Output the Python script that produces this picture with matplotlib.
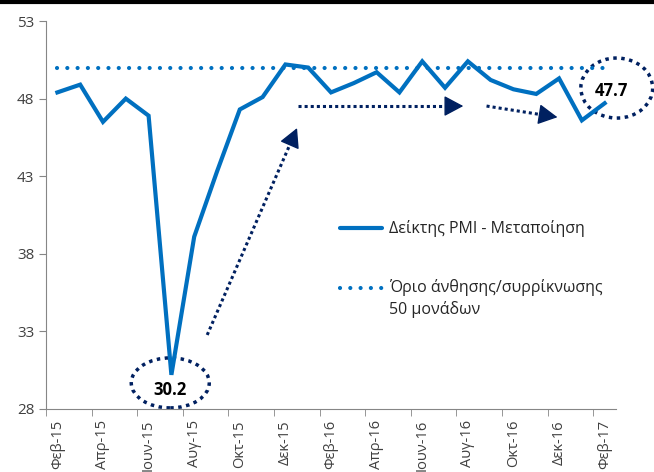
import numpy as np
import matplotlib.pyplot as plt
from matplotlib.lines import Line2D
from matplotlib.patches import Ellipse

plt.rcParams['font.family'] = ['Open Sans', 'DejaVu Sans']

months = ['Φεβ-15', 'Μαρ-15', 'Απρ-15', 'Μαϊ-15', 'Ιουν-15', 'Ιουλ-15', 'Αυγ-15',
          'Σεπ-15', 'Οκτ-15', 'Νοε-15', 'Δεκ-15', 'Ιαν-16', 'Φεβ-16', 'Μαρ-16',
          'Απρ-16', 'Μαϊ-16', 'Ιουν-16', 'Ιουλ-16', 'Αυγ-16', 'Σεπ-16', 'Οκτ-16',
          'Νοε-16', 'Δεκ-16', 'Ιαν-17', 'Φεβ-17']
pmi = [48.4, 48.9, 46.5, 48.0, 46.9, 30.2, 39.1, 43.3, 47.3, 48.1, 50.2, 50.0,
       48.4, 49.0, 49.7, 48.4, 50.4, 48.7, 50.4, 49.2, 48.6, 48.3, 49.3, 46.6, 47.7]
threshold = [50.0] * len(months)

blue = '#0070C0'
navy = '#002060'
grey = '#868686'

fig = plt.figure(figsize=(6.54, 4.72), dpi=100)
ax = fig.add_axes([0.0703, 0.1335, 0.8717, 0.822])

x = list(range(len(months)))
ax.plot(x, threshold, color=blue, lw=3, linestyle=(0, (0.01, 2.46)),
        dash_capstyle='round')
ax.plot(x, pmi, color=blue, lw=3, solid_joinstyle='miter')

ax.set_xlim(-0.5, len(months) - 0.5)
ax.set_ylim(28, 53)
ax.set_yticks([28, 33, 38, 43, 48, 53])
ax.set_xticks(x[::2])
ax.set_xticklabels(months[::2], rotation=90)
ax.set_xticks([i - 0.5 for i in x[::2]], minor=True)
ax.tick_params(axis='x', which='major', length=0, pad=8, labelsize=10.5, colors='#404040')
ax.tick_params(axis='x', which='minor', length=5, color=grey, direction='out')
ax.tick_params(axis='y', length=5, color=grey, labelsize=11, labelcolor='#404040')
for s in ['top', 'right']:
    ax.spines[s].set_visible(False)
for s in ['left', 'bottom']:
    ax.spines[s].set_color(grey)

# legend, drawn by hand to keep the handle on the first text line
fs = 11.5
ax.plot([0.516, 0.59], [0.466, 0.466], transform=ax.transAxes, color=blue, lw=3,
        solid_capstyle='round')
ax.text(0.602, 0.466, 'Δείκτης PMI - Μεταποίηση', transform=ax.transAxes,
        va='center', fontsize=fs, color='#262626')
ax.plot([0.516, 0.59], [0.313, 0.313], transform=ax.transAxes, color=blue, lw=3,
        linestyle=(0, (0.01, 2.46)), dash_capstyle='round')
ax.text(0.602, 0.313, 'Όριο άνθησης/συρρίκνωσης', transform=ax.transAxes,
        va='center', fontsize=fs, color='#262626')
ax.text(0.602, 0.256, '50 μονάδων', transform=ax.transAxes,
        va='center', fontsize=fs, color='#262626')

# callouts
ax.add_patch(Ellipse((4.95, 29.68), 3.42, 3.22, fill=False, edgecolor=navy, lw=2.5,
                     linestyle=(0, (1, 1.3)), clip_on=False))
ax.text(4.95, 29.22, '30.2', ha='center', va='center', fontsize=12, fontweight='bold')
ax.add_patch(Ellipse((24.53, 48.68), 3.15, 3.87, fill=False, edgecolor=navy, lw=2.5,
                     linestyle=(0, (1, 1.3)), clip_on=False))
ax.text(24.3, 48.49, '47.7', ha='center', va='center', fontsize=12, fontweight='bold')

arrows = [((6.57, 32.77), (10.51, 46.1)),
          ((10.54, 47.52), (17.8, 47.52)),
          ((18.82, 47.52), (21.93, 46.8))]
head = 12  # points
for start, end in arrows:
    p0 = ax.transData.transform(start)
    p1 = ax.transData.transform(end)
    u = (p1 - p0) / np.hypot(*(p1 - p0))
    back = ax.transData.inverted().transform(p1 - u * head * 100 / 72 * 0.8)
    ax.plot([start[0], back[0]], [start[1], back[1]], color=navy, lw=2.2,
            linestyle=(0, (1, 1)))
    ax.annotate('', xy=end, xytext=(-u[0] * head, -u[1] * head),
                textcoords='offset points',
                arrowprops=dict(arrowstyle='-|>,head_length=0.6,head_width=0.32',
                                color=navy, lw=1, mutation_scale=20,
                                shrinkA=0, shrinkB=0))

fig.add_artist(Line2D([0, 1], [0.996, 0.996], color='black', lw=3))

fig.savefig('out.png', dpi=100)
